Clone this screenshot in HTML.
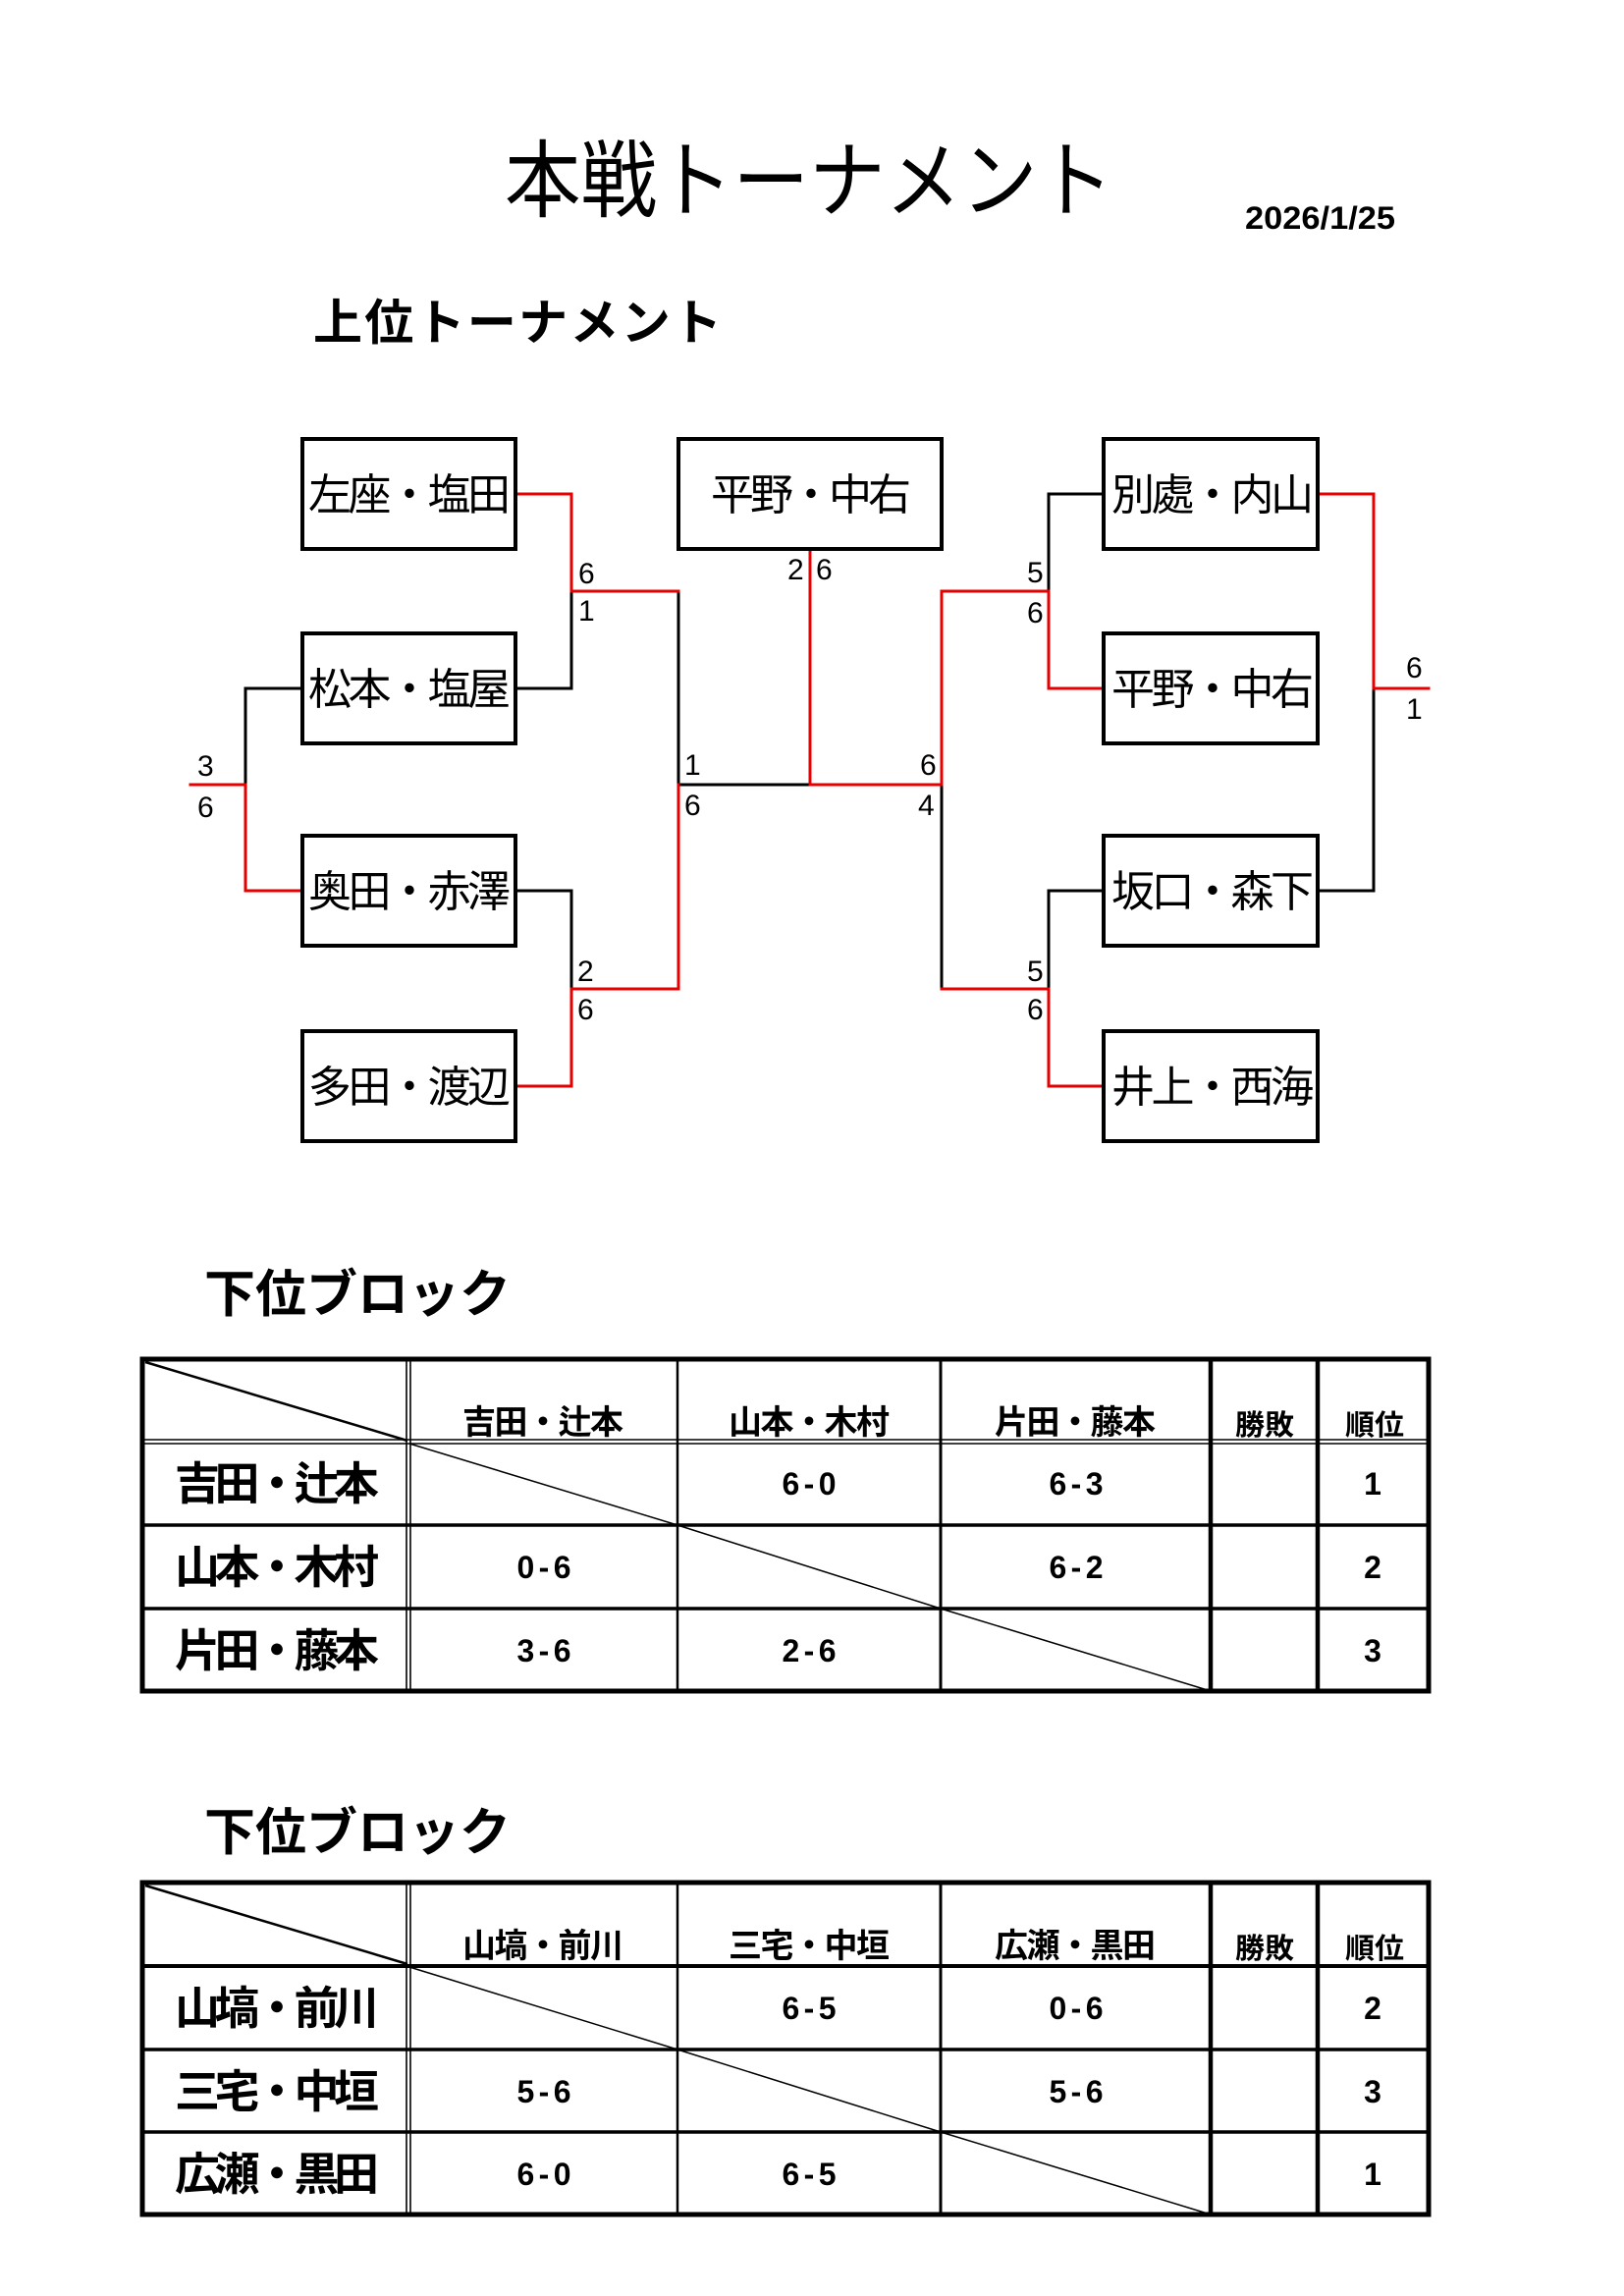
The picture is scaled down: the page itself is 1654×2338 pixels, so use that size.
<!DOCTYPE html>
<html><head><meta charset="utf-8"><style>
html,body{margin:0;padding:0;background:#fff;}
svg{display:block;}
text{font-family:"Liberation Sans","Noto Sans CJK JP",sans-serif;fill:#000;}
.b{font-weight:bold;}
</style></head><body>
<svg width="1654" height="2338" viewBox="0 0 1654 2338" xmlns="http://www.w3.org/2000/svg">
<rect x="0" y="0" width="1654" height="2338" fill="#fff"/>
<!-- titles -->
<text x="514" y="214" font-size="86" textLength="620" lengthAdjust="spacingAndGlyphs">本戦トーナメント</text>
<text class="b" x="1268" y="233" font-size="32" textLength="153" lengthAdjust="spacingAndGlyphs">2026/1/25</text>
<text class="b" x="319" y="346" font-size="50" textLength="416" lengthAdjust="spacing">上位トーナメント</text>

<!-- connectors black -->
<g fill="none" stroke="#000" stroke-width="3" stroke-linecap="square">
<polyline points="525,701 582,701 582,602"/>
<polyline points="525,907 582,907 582,1007"/>
<polyline points="691,602 691,799 825,799"/>
<polyline points="959,799 959,1007"/>
<polyline points="308,701 250,701 250,799"/>
<polyline points="1124,503 1068,503 1068,602"/>
<polyline points="1124,907 1068,907 1068,1007"/>
<polyline points="1342,907 1399,907 1399,701"/>
</g>
<!-- connectors red -->
<g fill="none" stroke="#e60000" stroke-width="3" stroke-linecap="square">
<polyline points="525,503 582,503 582,602 691,602"/>
<polyline points="525,1106 582,1106 582,1007 691,1007 691,799"/>
<polyline points="308,907 250,907 250,799 194,799"/>
<polyline points="825,559 825,799 959,799 959,602 1068,602 1068,701 1124,701"/>
<polyline points="959,1007 1068,1007 1068,1106 1124,1106"/>
<polyline points="1342,503 1399,503 1399,701 1455,701"/>
</g>

<!-- boxes -->
<g fill="#fff" stroke="#000" stroke-width="4">
<rect x="308" y="447" width="217" height="112"/>
<rect x="308" y="645" width="217" height="112"/>
<rect x="308" y="851" width="217" height="112"/>
<rect x="308" y="1050" width="217" height="112"/>
<rect x="691" y="447" width="268" height="112"/>
<rect x="1124" y="447" width="218" height="112"/>
<rect x="1124" y="645" width="218" height="112"/>
<rect x="1124" y="851" width="218" height="112"/>
<rect x="1124" y="1050" width="218" height="112"/>
</g>
<g font-size="44" text-anchor="middle">
<text x="417" y="519" textLength="206" lengthAdjust="spacing">左座・塩田</text>
<text x="417" y="717" textLength="206" lengthAdjust="spacing">松本・塩屋</text>
<text x="417" y="923" textLength="206" lengthAdjust="spacing">奥田・赤澤</text>
<text x="417" y="1122" textLength="206" lengthAdjust="spacing">多田・渡辺</text>
<text x="826" y="519" textLength="204" lengthAdjust="spacing">平野・中右</text>
<text x="1235" y="519" textLength="206" lengthAdjust="spacing">別處・内山</text>
<text x="1235" y="717" textLength="206" lengthAdjust="spacing">平野・中右</text>
<text x="1235" y="923" textLength="206" lengthAdjust="spacing">坂口・森下</text>
<text x="1235" y="1122" textLength="206" lengthAdjust="spacing">井上・西海</text>
</g>

<!-- score labels -->
<g font-size="30">
<text x="589" y="594">6</text><text x="589" y="632">1</text>
<text x="201" y="790">3</text><text x="201" y="832">6</text>
<text x="802" y="590">2</text><text x="831" y="590">6</text>
<text x="697" y="789">1</text><text x="697" y="830">6</text>
<text x="937" y="789">6</text><text x="935" y="830">4</text>
<text x="588" y="999">2</text><text x="588" y="1038">6</text>
<text x="1046" y="593">5</text><text x="1046" y="634">6</text>
<text x="1046" y="999">5</text><text x="1046" y="1038">6</text>
<text x="1432" y="690">6</text><text x="1432" y="732">1</text>
</g>

<!-- ===== Table 1 ===== -->
<text class="b" x="208" y="1336" font-size="52" textLength="312" lengthAdjust="spacing">下位ブロック</text>
<g fill="none" stroke="#000">
<line x1="148" y1="1387" x2="415" y2="1467" stroke-width="2.5"/>
<line x1="417" y1="1470" x2="690" y2="1553" stroke-width="1.5"/>
<line x1="690" y1="1553" x2="958" y2="1638" stroke-width="1.5"/>
<line x1="958" y1="1638" x2="1233" y2="1722" stroke-width="1.5"/>
<line x1="145" y1="1466" x2="1455" y2="1466" stroke-width="1.6"/>
<line x1="145" y1="1470" x2="1455" y2="1470" stroke-width="1.6"/>
<line x1="145" y1="1553" x2="1455" y2="1553" stroke-width="3.5"/>
<line x1="145" y1="1638" x2="1455" y2="1638" stroke-width="3.5"/>
<line x1="414" y1="1384" x2="414" y2="1722" stroke-width="1.6"/>
<line x1="418" y1="1384" x2="418" y2="1722" stroke-width="1.6"/>
<line x1="690" y1="1384" x2="690" y2="1722" stroke-width="2.5"/>
<line x1="958" y1="1384" x2="958" y2="1722" stroke-width="3"/>
<line x1="1233" y1="1384" x2="1233" y2="1722" stroke-width="4.5"/>
<line x1="1342" y1="1384" x2="1342" y2="1722" stroke-width="4.5"/>
<rect x="145" y="1384" width="1310" height="338" stroke-width="5"/>
</g>
<g class="b" text-anchor="middle">
<text x="553" y="1460" font-size="34" textLength="164" lengthAdjust="spacing">吉田・辻本</text>
<text x="824" y="1460" font-size="34" textLength="164" lengthAdjust="spacing">山本・木村</text>
<text x="1095" y="1460" font-size="34" textLength="164" lengthAdjust="spacing">片田・藤本</text>
<text x="1288" y="1461" font-size="29" textLength="60" lengthAdjust="spacingAndGlyphs">勝敗</text>
<text x="1400" y="1461" font-size="29" textLength="60" lengthAdjust="spacingAndGlyphs">順位</text>
<text x="282" y="1527" font-size="46" textLength="208" lengthAdjust="spacing">吉田・辻本</text>
<text x="282" y="1612" font-size="46" textLength="208" lengthAdjust="spacing">山本・木村</text>
<text x="282" y="1697" font-size="46" textLength="208" lengthAdjust="spacing">片田・藤本</text>
<g font-size="32">
<text x="824" y="1522" textLength="55" lengthAdjust="spacing">6-0</text>
<text x="1096" y="1522" textLength="55" lengthAdjust="spacing">6-3</text>
<text x="1398" y="1522">1</text>
<text x="554" y="1607" textLength="55" lengthAdjust="spacing">0-6</text>
<text x="1096" y="1607" textLength="55" lengthAdjust="spacing">6-2</text>
<text x="1398" y="1607">2</text>
<text x="554" y="1692" textLength="55" lengthAdjust="spacing">3-6</text>
<text x="824" y="1692" textLength="55" lengthAdjust="spacing">2-6</text>
<text x="1398" y="1692">3</text>
</g>
</g>

<!-- ===== Table 2 ===== -->
<text class="b" x="208" y="1884" font-size="52" textLength="312" lengthAdjust="spacing">下位ブロック</text>
<g fill="none" stroke="#000">
<line x1="148" y1="1920" x2="415" y2="2000" stroke-width="2.5"/>
<line x1="417" y1="2003" x2="690" y2="2087" stroke-width="1.5"/>
<line x1="690" y1="2087" x2="958" y2="2171" stroke-width="1.5"/>
<line x1="958" y1="2171" x2="1233" y2="2255" stroke-width="1.5"/>
<line x1="145" y1="2002" x2="1455" y2="2002" stroke-width="4"/>
<line x1="145" y1="2087" x2="1455" y2="2087" stroke-width="3.5"/>
<line x1="145" y1="2171" x2="1455" y2="2171" stroke-width="3.5"/>
<line x1="414" y1="1917" x2="414" y2="2255" stroke-width="1.6"/>
<line x1="418" y1="1917" x2="418" y2="2255" stroke-width="1.6"/>
<line x1="690" y1="1917" x2="690" y2="2255" stroke-width="2.5"/>
<line x1="958" y1="1917" x2="958" y2="2255" stroke-width="3"/>
<line x1="1233" y1="1917" x2="1233" y2="2255" stroke-width="4.5"/>
<line x1="1342" y1="1917" x2="1342" y2="2255" stroke-width="4.5"/>
<rect x="145" y="1917" width="1310" height="338" stroke-width="5"/>
</g>
<g class="b" text-anchor="middle">
<text x="553" y="1993" font-size="34" textLength="164" lengthAdjust="spacing">山塙・前川</text>
<text x="824" y="1993" font-size="34" textLength="164" lengthAdjust="spacing">三宅・中垣</text>
<text x="1095" y="1993" font-size="34" textLength="164" lengthAdjust="spacing">広瀬・黒田</text>
<text x="1288" y="1994" font-size="29" textLength="60" lengthAdjust="spacingAndGlyphs">勝敗</text>
<text x="1400" y="1994" font-size="29" textLength="60" lengthAdjust="spacingAndGlyphs">順位</text>
<text x="282" y="2061" font-size="46" textLength="208" lengthAdjust="spacing">山塙・前川</text>
<text x="282" y="2146" font-size="46" textLength="208" lengthAdjust="spacing">三宅・中垣</text>
<text x="282" y="2230" font-size="46" textLength="208" lengthAdjust="spacing">広瀬・黒田</text>
<g font-size="32">
<text x="824" y="2056" textLength="55" lengthAdjust="spacing">6-5</text>
<text x="1096" y="2056" textLength="55" lengthAdjust="spacing">0-6</text>
<text x="1398" y="2056">2</text>
<text x="554" y="2141" textLength="55" lengthAdjust="spacing">5-6</text>
<text x="1096" y="2141" textLength="55" lengthAdjust="spacing">5-6</text>
<text x="1398" y="2141">3</text>
<text x="554" y="2225" textLength="55" lengthAdjust="spacing">6-0</text>
<text x="824" y="2225" textLength="55" lengthAdjust="spacing">6-5</text>
<text x="1398" y="2225">1</text>
</g>
</g>
</svg>
</body></html>
